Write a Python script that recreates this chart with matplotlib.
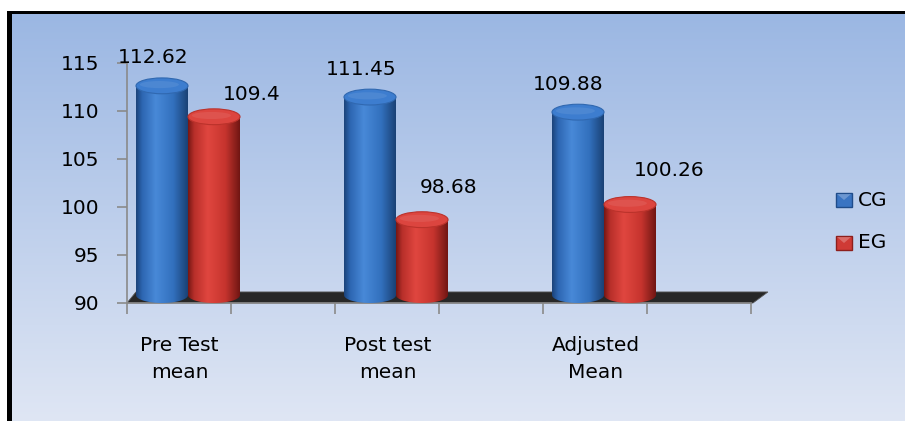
import numpy as np
import matplotlib
matplotlib.use("Agg")
import matplotlib.pyplot as plt
from matplotlib.colors import LinearSegmentedColormap
from matplotlib.patches import Polygon, Ellipse, PathPatch, Rectangle
from matplotlib.path import Path

# ---------------- data ----------------
categories = ["Pre Test\nmean", "Post test\nmean", "Adjusted\nMean"]
series_names = ["CG", "EG"]
cg_values = [112.62, 111.45, 109.88]
eg_values = [109.4, 98.68, 100.26]
y_ticks = [90, 95, 100, 105, 110, 115]
value_labels_cg = ["112.62", "111.45", "109.88"]
value_labels_eg = ["109.4", "98.68", "100.26"]

# ---------------- layout / style constants ----------------
W, H = 905, 421
FS = 14.5
FONT = "DejaVu Sans"
plt.rcParams["font.family"] = [FONT]

fig = plt.figure(figsize=(W / 100, H / 100), dpi=100)

# background panel (pixel coordinates)
bg = fig.add_axes([0, 0, 1, 1], zorder=0)
bg.set_xlim(0, W)
bg.set_ylim(H, 0)
bg.axis("off")
bg.add_patch(Rectangle((0, 0), W, H, facecolor="white", edgecolor="none"))
bg.add_patch(Rectangle((7, 11), W - 7, H - 11, facecolor="black", edgecolor="none"))
top_c = np.array([0x9b, 0xb7, 0xe3]) / 255.0
bot_c = np.array([0xdf, 0xe6, 0xf4]) / 255.0
t = np.linspace(0, 1, 256)[:, None]
grad_img = (top_c[None, :] * (1 - t) + bot_c[None, :] * t)[:, None, :]
bg.imshow(grad_img, extent=(12, W, H, 14), aspect="auto", origin="upper",
          interpolation="bilinear", zorder=1)
bg.set_xlim(0, W)
bg.set_ylim(H, 0)

# main axes: group centers at x=0,1,2
x_left, x_right = -0.2933, 2.9
y_lo, y_hi = 88, 117
ax = fig.add_axes([127 / W, (H - 322.2) / H, (791.2 - 127) / W, 278.4 / H], zorder=1)
ax.patch.set_alpha(0)

bar_w = 0.25
offsets = [-0.125, 0.125]
ell_h = 1.65
base_bottom = 90

blue_cmap = LinearSegmentedColormap.from_list(
    "b", [(0, "#1b4379"), (0.12, "#2d66b2"), (0.38, "#4889d8"), (0.72, "#3270bd"), (1, "#1a4174")])
red_cmap = LinearSegmentedColormap.from_list(
    "r", [(0, "#761714"), (0.12, "#b82f2a"), (0.38, "#e0463f"), (0.72, "#c6342e"), (1, "#701613")])
styles = [
    dict(cmap=blue_cmap, top="#3d7dcf", edge="#3068b0"),
    dict(cmap=red_cmap, top="#dc453f", edge="#bb322b"),
]


def draw_cylinder(xc, value, st, z):
    left, right = xc - bar_w / 2, xc + bar_w / 2
    base = base_bottom + ell_h / 2
    theta = np.linspace(np.pi, 2 * np.pi, 60)
    arc = list(zip(xc + (bar_w / 2) * np.cos(theta), base + (ell_h / 2) * np.sin(theta)))
    verts = [(left, value)] + arc + [(right, value), (left, value)]
    codes = [Path.MOVETO] + [Path.LINETO] * (len(verts) - 2) + [Path.CLOSEPOLY]
    clip = PathPatch(Path(verts, codes), facecolor="none", edgecolor="none", zorder=z)
    ax.add_patch(clip)
    g = np.linspace(0, 1, 256)[None, :]
    im = ax.imshow(g, cmap=st["cmap"], extent=(left, right, base_bottom, value),
                   aspect="auto", origin="lower", interpolation="bilinear", zorder=z)
    im.set_clip_path(clip)
    ax.add_patch(Ellipse((xc, value), bar_w, ell_h, facecolor=st["top"],
                         edgecolor=st["edge"], lw=0.8, zorder=z + 0.1))
    ax.add_patch(Ellipse((xc - bar_w * 0.05, value + ell_h * 0.08), bar_w * 0.75, ell_h * 0.45,
                         facecolor="white", alpha=0.08, edgecolor="none", zorder=z + 0.2))


# floor
floor = Polygon([(-0.2933, 90), (2.716, 90), (2.788, 91.15), (-0.25, 91.15)],
                closed=True, facecolor="#272727", edgecolor="#555555", lw=0.6, zorder=2)
ax.add_patch(floor)

series = [cg_values, eg_values]
for gi in range(len(categories)):
    for si, vals in enumerate(series):
        draw_cylinder(gi + offsets[si], vals[gi], styles[si], 3 + gi * 2 + si)

# value labels (pixel offsets)
cg_label_off = [(-9, 28), (-9, 28), (-10, 28)]
eg_label_off = [(38, 22), (27, 32), (39, 34)]
for si, (vals, labs, offs) in enumerate([(cg_values, value_labels_cg, cg_label_off),
                                          (eg_values, value_labels_eg, eg_label_off)]):
    for gi, v in enumerate(vals):
        ax.annotate(labs[gi], (gi + offsets[si], v), xytext=offs[gi], textcoords="offset pixels",
                    ha="center", va="center", fontsize=FS, color="black", zorder=20,
                    annotation_clip=False)

# category labels
for gi, cat in enumerate(categories):
    ax.text(gi - 0.04, 86.6, cat, ha="center", va="top", fontsize=FS, linespacing=1.55,
            clip_on=False)

# axes styling
ax.set_xlim(x_left, x_right)
ax.set_ylim(y_lo, y_hi)
for s in ["top", "right"]:
    ax.spines[s].set_visible(False)
ax.spines["left"].set_bounds(90, 115)
ax.spines["left"].set_color("#8a8a8a")
ax.spines["left"].set_linewidth(1.2)
ax.spines["bottom"].set_position(("data", 90))
ax.spines["bottom"].set_bounds(-0.2933, 2.7067)
ax.spines["bottom"].set_color("#8a8a8a")
ax.spines["bottom"].set_linewidth(1.2)
ax.spines["bottom"].set_zorder(2.5)
ax.set_yticks(y_ticks)
ax.set_yticklabels([str(v) for v in y_ticks], fontsize=FS)
ax.set_xticks([-0.2933 + 0.5 * k for k in range(7)])
ax.set_xticklabels([])
ax.tick_params(axis="y", direction="out", length=7, width=1.2, color="#8a8a8a", pad=13)
ax.tick_params(axis="x", direction="out", length=8, width=1.2, color="#8a8a8a")

# legend (pixel coordinates on background)
leg_colors = [("#3a74c2", "#1f4c8a"), ("#cf3a35", "#8d1f1c")]
leg_y = [200, 243]
for i, name in enumerate(series_names):
    fc, ec = leg_colors[i]
    bg.add_patch(Rectangle((836, leg_y[i] - 7), 16, 14, facecolor=fc, edgecolor=ec, lw=1.0, zorder=5))
    bg.add_patch(Polygon([(837, leg_y[i] - 6), (851, leg_y[i] - 6), (844, leg_y[i])],
                         closed=True, facecolor="white", alpha=0.25, edgecolor="none", zorder=6))
    bg.text(858, leg_y[i], name, ha="left", va="center", fontsize=FS, zorder=6)

fig.savefig("out.png", dpi=100)
